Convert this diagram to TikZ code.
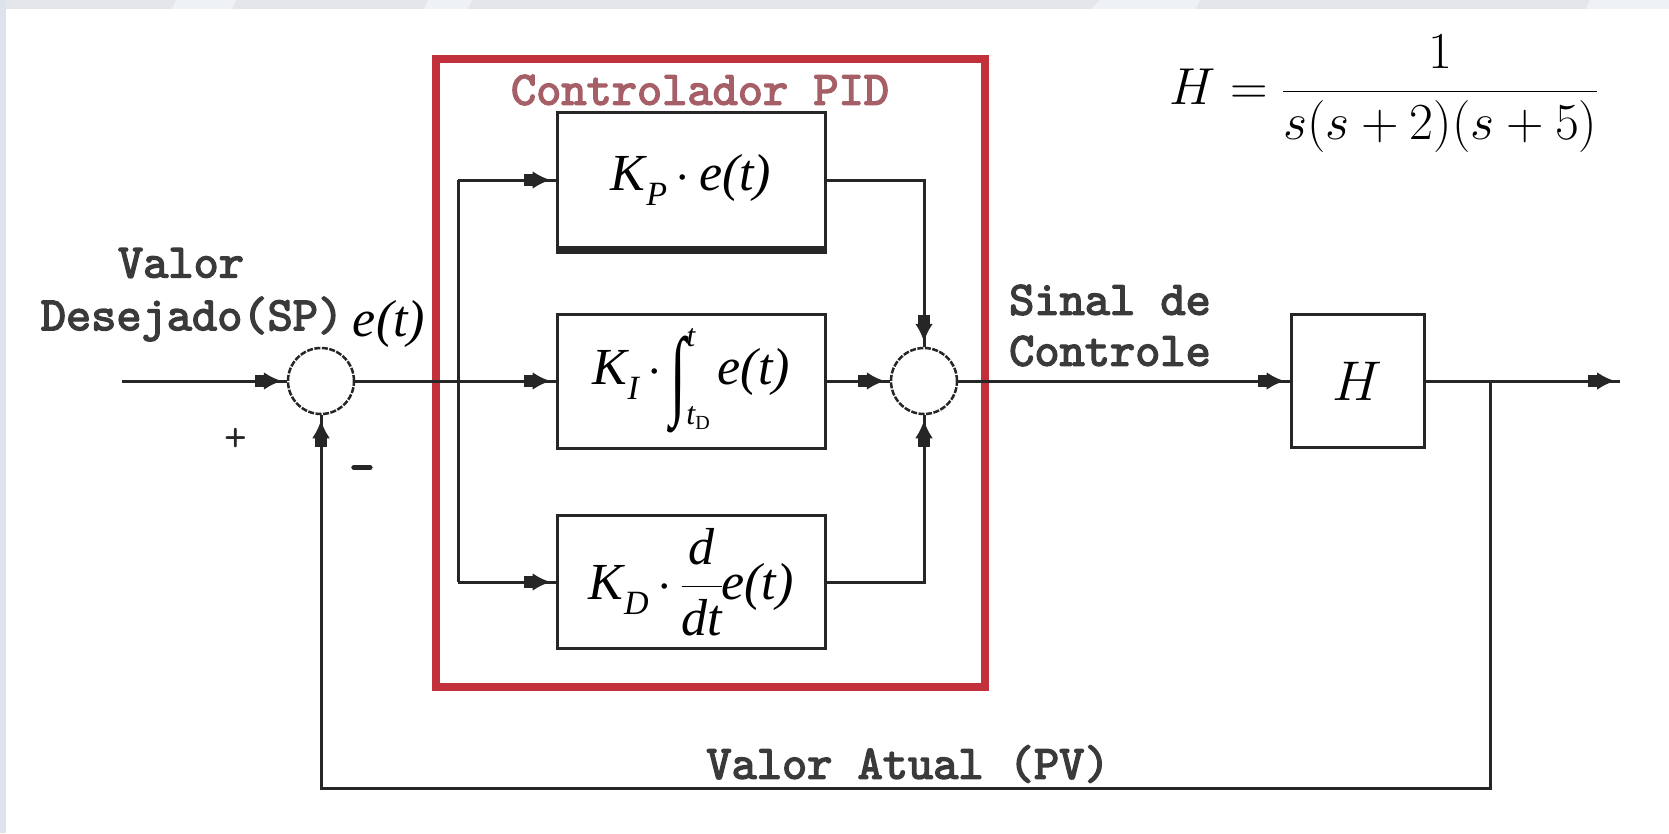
\RequirePackage{fix-cm}
\documentclass[tikz,border=0pt]{standalone}
\usepackage{fontspec}
\usetikzlibrary{arrows.meta,calc}
\newfontfamily\tms{Liberation Serif}
\newfontfamily\monob{lmmono10-regular.otf}[FakeBold=3]
\definecolor{pidred}{HTML}{C2313B}
\definecolor{pidtxt}{HTML}{A65F66}
\definecolor{ink}{HTML}{262626}
\definecolor{labelgray}{HTML}{3A3A3A}
\definecolor{bandgray}{HTML}{E5E6E9}
\definecolor{bandlight}{HTML}{EEF2F6}
\definecolor{stripgray}{HTML}{DCE3EB}
\newcommand{\gainK}[1]{{\tms\itshape K\kern1pt\raisebox{-15pt}{\fontsize{34}{34}\selectfont #1}}}
\newcommand{\et}{{\tms\itshape e(t)}}
\begin{document}
\begin{tikzpicture}[x=1pt,y=-1pt,
  line/.style={draw=ink,line width=3pt},
  arr/.style={line,postaction={draw=ink,line width=3pt,-{Rectangle[length=9pt,width=12pt]Latex[length=18pt,width=18pt]},shorten >=5pt}},
  blockbox/.style={draw=ink,line width=3pt,fill=white,minimum width=268pt,inner sep=0pt,font=\fontsize{52}{60}\selectfont},
  sumnode/.style={circle,draw=ink,line width=2.5pt,dash pattern=on 6pt off 1.5pt,minimum size=66pt,inner sep=0pt},
  lbl/.style={font=\monob\fontsize{48}{56}\selectfont,text=labelgray,inner sep=0pt},
  mathlbl/.style={font=\fontsize{52}{60}\selectfont,inner sep=0pt},
]
% background
\useasboundingbox (0,0) rectangle (1669,833);
\fill[white] (0,0) rectangle (1669,833);
\fill[bandgray] (0,0) rectangle (1669,9);
\fill[bandlight] (176,0) -- (236,0) -- (232,9) -- (172,9) -- cycle;
\fill[bandlight] (428,0) -- (472,0) -- (468,9) -- (424,9) -- cycle;
\fill[bandlight] (1100,0) -- (1200,0) -- (1196,9) -- (1091,9) -- cycle;
\fill[bandlight] (1590,0) -- (1669,0) -- (1669,9) -- (1586,9) -- cycle;
\fill[stripgray] (0,0) rectangle (6,833);

% PID frame
\node[draw=pidred,line width=8pt,minimum width=549pt,minimum height=628pt,inner sep=0pt] (pid) at (710.5,373) {};
\node[lbl,text=pidtxt] (ttl) at (700,90) {Controlador PID};

% blocks
\node[sumnode] (s1) at (321,381) {};
\node[sumnode] (s2) at (924,381) {};
\node[blockbox,minimum height=135pt] (kp) at (691,180) {\gainK{P}\,$\cdot$\,\et};
\node[blockbox,minimum height=134pt] (ki) at (691,381) {\gainK{I}\,$\cdot$\,\raisebox{-22pt}{\scalebox{1.1}[1.9]{\tms ∫}}\rlap{\raisebox{38pt}{\fontsize{32}{32}\selectfont\tms\itshape t}}\raisebox{-40pt}{\fontsize{32}{32}\selectfont\tms\itshape t\raisebox{-5pt}{\fontsize{20}{20}\selectfont\upshape D}}\kern8pt\et};
\node[blockbox,minimum height=133pt] (kd) at (691,582) {\gainK{D}\,$\cdot$\,$\displaystyle\frac{\mbox{\tms\itshape d}}{\mbox{\tms\itshape dt}}$\kern-2pt\et};
\draw[ink,line width=6pt] ([yshift=-1.5pt]kp.south west) -- ([yshift=-1.5pt]kp.south east);
\node[blockbox,minimum width=133pt,minimum height=133pt,font=\fontsize{56}{64}\selectfont] (h) at (1357.5,381) {$H$};

% coordinates
\coordinate (in) at (122,381);
\coordinate (br) at (458,381);
\coordinate (out) at (1620,381);
\coordinate (fb) at (1490,381);
\coordinate (fbb) at (1490,788);

% connectors
\draw[arr] (in) -- (s1.west);
\draw[arr] (s1.east) -- (ki.west);
\draw[line] (br |- kp.west) -- (br |- kd.west);
\draw[arr] (br |- kp.west) -- (kp.west);
\draw[arr] (br |- kd.west) -- (kd.west);
\draw[arr] (kp.east) -| (s2.north);
\draw[arr] (ki.east) -- (s2.west);
\draw[arr] (kd.east) -| (s2.south);
\draw[arr] (s2.east) -- (h.west);
\draw[arr] (h.east) -- (out);
\draw[arr] (fb) -- (fbb) -| (s1.south);

% labels
\node[lbl] (v1) at (181,263) {Valor};
\node[lbl] (v2) at (192,319) {Desejado(SP)};
\node[mathlbl] (et) at (389,324) {\et};
\node[lbl,anchor=west] (sc1) at (1009,300) {Sinal de};
\node[lbl,anchor=west] (sc2) at (1009,351) {Controle};
\node[lbl] (pv) at (908,764) {Valor Atual (PV)};
\node[font=\ttfamily\fontsize{44}{50}\selectfont,text=ink,inner sep=0pt] (plus) at (236,440) {+};
\node[lbl,text=ink] (minus) at (362,474) {-};
\node[font=\fontsize{52}{60}\selectfont,inner sep=0pt] (hf) at (1384,94) {$H=\displaystyle\frac{1}{s(s+2)(s+5)}$};
\end{tikzpicture}
\end{document}
